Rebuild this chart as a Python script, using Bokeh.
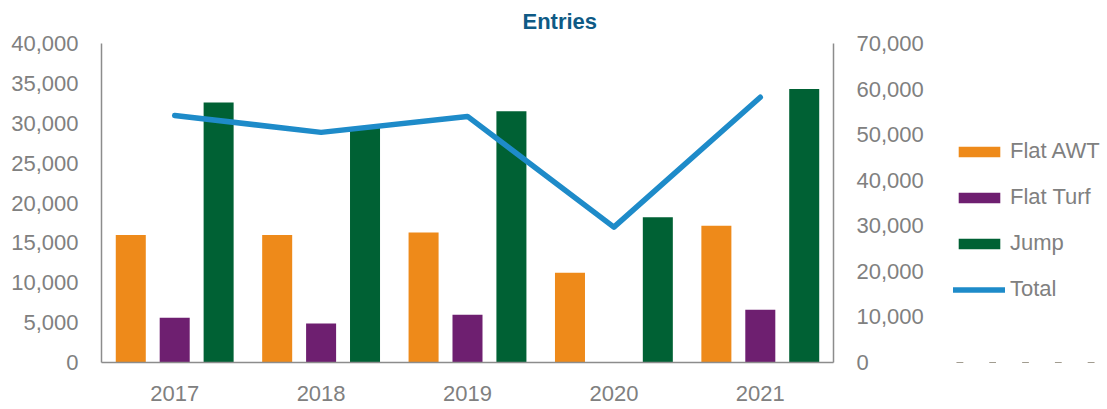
from bokeh.plotting import figure
from bokeh.layouts import row
from bokeh.models import (FactorRange, Range1d, LinearAxis, Legend, LegendItem,
                          SingleIntervalTicker, NumeralTickFormatter, ColumnDataSource, Title)
from bokeh.transform import dodge
from bokeh.embed import file_html
from bokeh.resources import INLINE

years = ["2017", "2018", "2019", "2020", "2021"]
flat_awt = [16000, 16000, 16300, 11250, 17150]
flat_turf = [5600, 4900, 6000, 0, 6600]
jump = [32600, 29400, 31500, 18200, 34300]
total = [54200, 50500, 54000, 29700, 58200]

series_names = ["Flat AWT", "Flat Turf", "Jump", "Total"]
colors = {"Flat AWT": "#EE8A1A", "Flat Turf": "#6E1F70", "Jump": "#006134", "Total": "#1E8BC9"}

FONT = "Liberation Sans"
GRAY = "#808080"
AXIS_GRAY = "#8C8C8C"

src = ColumnDataSource(dict(year=years, awt=flat_awt, turf=flat_turf, jump=jump, total=total))

p = figure(frame_width=732, frame_height=319, x_range=FactorRange(*years, range_padding=0),
           y_range=Range1d(0, 40000), output_backend="svg", toolbar_location=None,
           min_border_left=101, min_border_right=110, min_border_top=43, min_border_bottom=47)
p.extra_y_ranges = {"right": Range1d(0, 70000)}

p.title = Title(text="Entries", align="left", offset=421, text_font=FONT,
                text_font_size="22px", text_font_style="bold", text_color="#0E5A85",
                standoff=16, vertical_align="top")

w = 0.205
r1 = p.vbar(x=dodge("year", -0.3, range=p.x_range), top="awt", width=w, source=src,
            fill_color=colors["Flat AWT"], line_color=None)
r2 = p.vbar(x=dodge("year", 0.0, range=p.x_range), top="turf", width=w, source=src,
            fill_color=colors["Flat Turf"], line_color=None)
r3 = p.vbar(x=dodge("year", 0.3, range=p.x_range), top="jump", width=w, source=src,
            fill_color=colors["Jump"], line_color=None)
r4 = p.line(x="year", y="total", source=src, y_range_name="right",
            line_color=colors["Total"], line_width=5.5, line_cap="round", line_join="round")

right_axis = LinearAxis(y_range_name="right")
p.add_layout(right_axis, "right")

for ax in p.yaxis:
    ax.major_tick_line_color = None
    ax.minor_tick_line_color = None
    ax.axis_line_color = AXIS_GRAY
    ax.axis_line_width = 1.5
    ax.major_label_text_font = FONT
    ax.major_label_text_font_size = "22px"
    ax.major_label_text_color = GRAY
    ax.major_label_standoff = 17
    ax.formatter = NumeralTickFormatter(format="0,0")

p.yaxis[0].ticker = SingleIntervalTicker(interval=5000)
right_axis.ticker = SingleIntervalTicker(interval=10000)

xa = p.xaxis[0]
xa.major_tick_line_color = None
xa.minor_tick_line_color = None
xa.axis_line_color = AXIS_GRAY
xa.axis_line_width = 1.5
xa.major_label_text_font = FONT
xa.major_label_text_font_size = "22px"
xa.major_label_text_color = GRAY
xa.major_label_standoff = 17

p.xgrid.grid_line_color = None
p.ygrid.grid_line_color = None
p.outline_line_color = None

# legend panel: a separate figure so the legend is not clipped by the main plot frame.
# Its renderers reuse the same data but lie entirely below its visible range, so only
# the legend swatches show.
p2 = figure(width=164, height=409, x_range=FactorRange(*years), y_range=Range1d(1e6, 2e6),
            x_axis_type=None, y_axis_type=None, output_backend="svg", toolbar_location=None,
            min_border=0)
p2.outline_line_color = None
p2.xgrid.grid_line_color = None
p2.ygrid.grid_line_color = None
l1 = p2.vbar(x="year", top="awt", width=w, source=src,
             fill_color=colors["Flat AWT"], line_color=None)
l2 = p2.vbar(x="year", top="turf", width=w, source=src,
             fill_color=colors["Flat Turf"], line_color=None)
l3 = p2.vbar(x="year", top="jump", width=w, source=src,
             fill_color=colors["Jump"], line_color=None)
l4 = p2.line(x="year", y="total", source=src, line_color=colors["Total"],
             line_width=5.5, line_cap="round")

legend = Legend(items=[LegendItem(label=series_names[0], renderers=[l1]),
                       LegendItem(label=series_names[1], renderers=[l2]),
                       LegendItem(label=series_names[2], renderers=[l3]),
                       LegendItem(label=series_names[3], renderers=[l4])],
                location=(10, 60), padding=0, margin=0, spacing=20,
                glyph_width=52, glyph_height=13, label_standoff=5, label_height=24,
                label_text_font=FONT, label_text_font_size="22px", label_text_color=GRAY,
                border_line_color=None, background_fill_alpha=0)
p2.add_layout(legend, "center")

layout = row(p, p2, spacing=0)
open("out.html", "w").write(file_html(layout, INLINE))
